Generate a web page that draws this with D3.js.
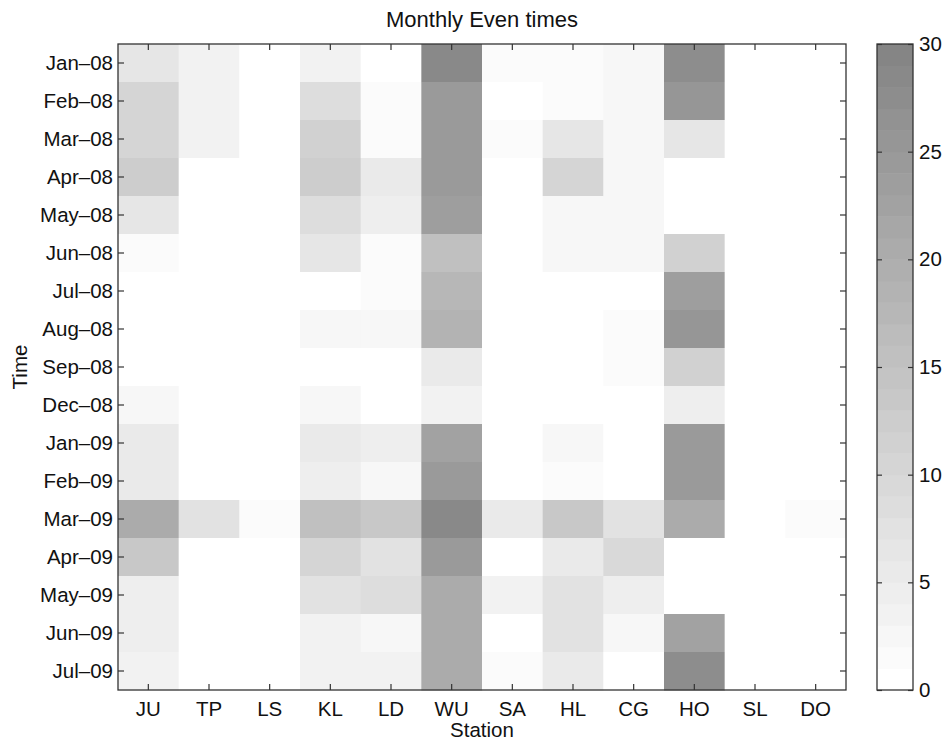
<!DOCTYPE html>
<html>
<head>
<meta charset="utf-8">
<script src="https://cdn.jsdelivr.net/npm/d3@7"></script>
<style>
  html, body { margin: 0; padding: 0; background: #fff; }
  svg text { font-family: "Liberation Sans", Arial, Helvetica, sans-serif; fill: #111; }
</style>
</head>
<body>
<svg id="chart" width="946" height="744"></svg>
<script>
// Stations along the x axis
const stations = ["JU", "TP", "LS", "KL", "LD", "WU", "SA", "HL", "CG", "HO", "SL", "DO"];
// Months along the y axis (top to bottom)
const months = ["Jan-08", "Feb-08", "Mar-08", "Apr-08", "May-08", "Jun-08", "Jul-08", "Aug-08",
                "Sep-08", "Dec-08", "Jan-09", "Feb-09", "Mar-09", "Apr-09", "May-09", "Jun-09", "Jul-09"];

// Monthly event counts, one row per month, one column per station
const jan08 = [6, 3, 0, 3, 0, 28, 1, 1, 2, 27, 0, 0];
const feb08 = [10, 3, 0, 8, 1, 24, 0, 1, 2, 25, 0, 0];
const mar08 = [10, 3, 0, 11, 1, 24, 1, 6, 2, 6, 0, 0];
const apr08 = [12, 0, 0, 12, 5, 24, 0, 10, 2, 0, 0, 0];
const may08 = [6, 0, 0, 8, 4, 23, 0, 2, 2, 0, 0, 0];
const jun08 = [1, 0, 0, 6, 1, 15, 0, 2, 2, 11, 0, 0];
const jul08 = [0, 0, 0, 0, 1, 17, 0, 0, 0, 23, 0, 0];
const aug08 = [0, 0, 0, 2, 2, 18, 0, 0, 1, 25, 0, 0];
const sep08 = [0, 0, 0, 0, 0, 5, 0, 0, 1, 11, 0, 0];
const dec08 = [2, 0, 0, 2, 0, 3, 0, 0, 0, 4, 0, 0];
const jan09 = [5, 0, 0, 5, 4, 22, 0, 2, 0, 24, 0, 0];
const feb09 = [5, 0, 0, 4, 2, 24, 0, 1, 0, 24, 0, 0];
const mar09 = [20, 7, 1, 15, 13, 28, 5, 13, 7, 20, 0, 1];
const apr09 = [13, 0, 0, 10, 7, 24, 0, 5, 9, 0, 0, 0];
const may09 = [4, 0, 0, 7, 8, 20, 3, 7, 4, 0, 0, 0];
const jun09 = [4, 0, 0, 3, 2, 20, 0, 7, 2, 22, 0, 0];
const jul09 = [3, 0, 0, 3, 3, 20, 1, 5, 0, 27, 0, 0];

const counts = [jan08, feb08, mar08, apr08, may08, jun08, jul08, aug08, sep08,
                dec08, jan09, feb09, mar09, apr09, may09, jun09, jul09];

// Colour bar ticks
const colorTicks = [0, 5, 10, 15, 20, 25, 30];

const svg = d3.select("#chart");
const plot = { left: 118, right: 846, top: 44, bottom: 690 };
const bar = { left: 877, right: 913 };
const axisColor = "#333";

// 30-step grey ramp from white (0) to mid grey (30)
const nLevels = 30;
const greys = d3.range(nLevels).map(i => {
  const g = Math.round(255 - i * (255 - 133) / (nLevels - 1));
  return d3.rgb(g, g, g).formatHex();
});
const color = d3.scaleQuantize().domain([0, 30]).range(greys);

const x = d3.scaleBand().domain(stations).range([plot.left, plot.right]);
const y = d3.scaleBand().domain(months).range([plot.top, plot.bottom]);

// heatmap cells
const cells = [];
counts.forEach((row, i) => row.forEach((v, j) => cells.push({ m: months[i], s: stations[j], v })));
svg.append("g").selectAll("rect").data(cells).join("rect")
  .attr("x", d => x(d.s))
  .attr("y", d => y(d.m))
  .attr("width", x.bandwidth() + 0.5)
  .attr("height", y.bandwidth() + 0.5)
  .attr("fill", d => color(d.v));

// axes with inward ticks on all four sides
const fs = "20.5px";
function styleAxis(g) {
  g.select(".domain").remove();
  g.selectAll(".tick line").attr("stroke", axisColor).attr("stroke-width", 1.2);
  g.selectAll(".tick text").style("font-size", fs).attr("fill", "#111");
}
svg.append("g").attr("transform", `translate(0,${plot.bottom})`)
  .call(d3.axisBottom(x).tickSizeInner(-6).tickSizeOuter(0).tickPadding(11))
  .call(styleAxis);
svg.append("g").attr("transform", `translate(0,${plot.top})`)
  .call(d3.axisTop(x).tickSizeInner(-6).tickSizeOuter(0).tickFormat(""))
  .call(styleAxis);
svg.append("g").attr("transform", `translate(${plot.left},0)`)
  .call(d3.axisLeft(y).tickSizeInner(-6).tickSizeOuter(0).tickPadding(5).tickFormat(d => d.replace("-", "\u2013")))
  .call(styleAxis);
svg.append("g").attr("transform", `translate(${plot.right},0)`)
  .call(d3.axisRight(y).tickSizeInner(-6).tickSizeOuter(0).tickFormat(""))
  .call(styleAxis);

svg.append("rect")
  .attr("x", plot.left).attr("y", plot.top)
  .attr("width", plot.right - plot.left).attr("height", plot.bottom - plot.top)
  .attr("fill", "none").attr("stroke", axisColor).attr("stroke-width", 1.3);

// titles
svg.append("text").attr("x", (plot.left + plot.right) / 2).attr("y", 27)
  .attr("text-anchor", "middle").style("font-size", "22px").text("Monthly Even times");
svg.append("text").attr("x", (plot.left + plot.right) / 2).attr("y", 737)
  .attr("text-anchor", "middle").style("font-size", fs).text("Station");
svg.append("text").attr("transform", `translate(27,${(plot.top + plot.bottom) / 2}) rotate(-90)`)
  .attr("text-anchor", "middle").style("font-size", fs).text("Time");

// colour bar
const cy = d3.scaleLinear().domain([0, 30]).range([plot.bottom, plot.top]);
svg.append("g").selectAll("rect").data(greys).join("rect")
  .attr("x", bar.left)
  .attr("width", bar.right - bar.left)
  .attr("y", (d, i) => cy(i + 1))
  .attr("height", (d, i) => cy(i) - cy(i + 1) + 0.5)
  .attr("fill", d => d);

const cbAxis = svg.append("g").attr("transform", `translate(${bar.right},0)`)
  .call(d3.axisRight(cy).tickValues(colorTicks).tickSizeInner(-5).tickSizeOuter(0))
  .call(styleAxis);
cbAxis.selectAll(".tick text").attr("x", 6);
svg.append("g").attr("transform", `translate(${bar.left},0)`)
  .call(d3.axisLeft(cy).tickValues(colorTicks).tickSizeInner(-5).tickSizeOuter(0).tickFormat(""))
  .call(styleAxis);
svg.append("rect")
  .attr("x", bar.left).attr("y", plot.top)
  .attr("width", bar.right - bar.left).attr("height", plot.bottom - plot.top)
  .attr("fill", "none").attr("stroke", axisColor).attr("stroke-width", 1.3);
</script>
</body>
</html>
